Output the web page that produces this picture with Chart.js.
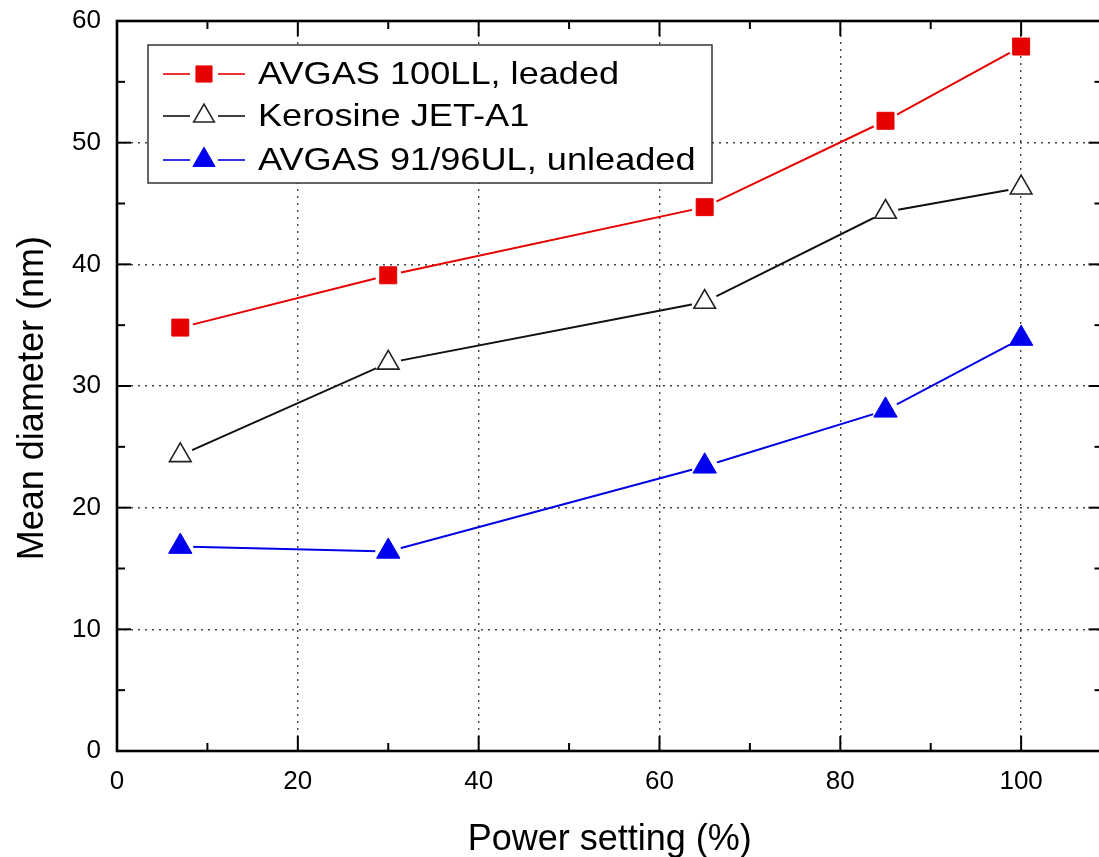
<!DOCTYPE html>
<html>
<head>
<meta charset="utf-8">
<script src="https://cdn.jsdelivr.net/npm/chart.js@4.4.1/dist/chart.umd.min.js"></script>
<style>
  html, body { margin: 0; padding: 0; background: #fff; overflow: hidden; }
  #wrap { width: 1099px; height: 857px; position: relative; overflow: hidden; }
  #c { position: absolute; left: 0; top: 0; }
</style>
</head>
<body>
<div id="wrap"><canvas id="c" width="1117" height="857"></canvas></div>
<script>
// ---- data ----
const powerSetting = [7, 30, 65, 85, 100];
const avgas100LL = [34.8, 39.1, 44.7, 51.8, 57.9];
const keroseneJetA1 = [24.3, 31.9, 36.9, 44.3, 46.3];
const avgas9196UL = [16.8, 16.4, 23.4, 28.0, 33.9];
const seriesNames = ['AVGAS 100LL, leaded', 'Kerosine JET-A1', 'AVGAS 91/96UL, unleaded'];
const xTickValues = [0, 20, 40, 60, 80, 100];
const yTickValues = [0, 10, 20, 30, 40, 50, 60];
const xTitle = 'Power setting (%)';
const yTitle = 'Mean diameter (nm)';

const FONT = "'Liberation Sans', Arial, sans-serif";

function pts(ys) { return powerSetting.map((x, i) => ({ x: x, y: ys[i] })); }

const styles = [
  { line: '#e60000', style: 'rect', r: 12, fill: '#e60000', stroke: '#e60000', bw: 1 },
  { line: '#111111', style: 'triangle', r: 12.5, fill: '#ffffff', stroke: '#222222', bw: 1.6 },
  { line: '#0000e6', style: 'triangle', r: 13.5, fill: '#0000ee', stroke: '#0000ee', bw: 1 }
];
const seriesValues = [avgas100LL, keroseneJetA1, avgas9196UL];

const datasets = [];
seriesValues.forEach((vals, i) => {
  datasets.push({ label: seriesNames[i], data: pts(vals), borderColor: styles[i].line, borderWidth: 2,
    pointRadius: 0, showLine: true, tension: 0, fill: false, _gapLine: true });
});
seriesValues.forEach((vals, i) => {
  const s = styles[i];
  datasets.push({ label: seriesNames[i], data: pts(vals), showLine: false,
    pointStyle: s.style, pointRadius: s.r, pointBackgroundColor: s.fill, pointBorderColor: s.stroke,
    pointBorderWidth: s.bw });
});

const GAP = 13;
const gapPlugin = {
  id: 'gap',
  beforeDatasetDraw(chart, args) {
    const ds = chart.data.datasets[args.index];
    if (!ds._gapLine) return;
    const { ctx } = chart;
    ctx.save();
    ctx.beginPath();
    ctx.rect(0, 0, chart.width, chart.height);
    args.meta.data.forEach(p => {
      ctx.moveTo(p.x + GAP, p.y);
      ctx.arc(p.x, p.y, GAP, 0, Math.PI * 2);
    });
    ctx.clip('evenodd');
  },
  afterDatasetDraw(chart, args) {
    const ds = chart.data.datasets[args.index];
    if (!ds._gapLine) return;
    chart.ctx.restore();
  }
};

const framePlugin = {
  id: 'frame',
  afterDraw(chart) {
    const { ctx, chartArea: a, scales } = chart;
    const xs = scales.x, ys = scales.y;
    ctx.save();
    ctx.strokeStyle = '#000';
    ctx.lineWidth = 2;
    const drawX = (v, len) => {
      const px = xs.getPixelForValue(v);
      ctx.beginPath(); ctx.moveTo(px, a.bottom); ctx.lineTo(px, a.bottom - len); ctx.stroke();
      ctx.beginPath(); ctx.moveTo(px, a.top); ctx.lineTo(px, a.top + len); ctx.stroke();
    };
    const drawY = (v, len) => {
      const py = ys.getPixelForValue(v);
      ctx.beginPath(); ctx.moveTo(a.left, py); ctx.lineTo(a.left + len, py); ctx.stroke();
      ctx.beginPath(); ctx.moveTo(a.right, py); ctx.lineTo(a.right - len, py); ctx.stroke();
    };
    for (let v = 0; v <= xs.max; v += 10) drawX(v, v % 20 === 0 ? 15 : 8);
    for (let v = 0; v <= ys.max; v += 5) drawY(v, v % 10 === 0 ? 14 : 8);
    ctx.lineWidth = 2.6;
    ctx.strokeRect(a.left, a.top, a.right - a.left, a.bottom - a.top);

    // y axis title
    ctx.save();
    ctx.fillStyle = '#000';
    ctx.font = '36px ' + FONT;
    ctx.textAlign = 'center';
    ctx.textBaseline = 'alphabetic';
    ctx.translate(43, ys.getPixelForValue(29));
    ctx.rotate(-Math.PI / 2);
    ctx.fillText(yTitle, 0, 0);
    ctx.restore();

    // legend
    const lx = a.left + 31, ly = a.top + 24, lw = 564, lh = 138;
    ctx.fillStyle = '#fff';
    ctx.fillRect(lx, ly, lw, lh);
    ctx.lineWidth = 1.5;
    ctx.strokeStyle = '#333';
    ctx.strokeRect(lx, ly, lw, lh);
    const rowY = [ly + 29, ly + 71, ly + 115];
    styles.forEach((s, i) => {
      const y = rowY[i];
      const cx = lx + 56;
      ctx.strokeStyle = s.line;
      ctx.lineWidth = 1.6;
      ctx.beginPath(); ctx.moveTo(lx + 15, y); ctx.lineTo(cx - 14, y); ctx.stroke();
      ctx.beginPath(); ctx.moveTo(cx + 14, y); ctx.lineTo(lx + 97, y); ctx.stroke();
      ctx.fillStyle = s.fill;
      ctx.strokeStyle = s.stroke;
      ctx.lineWidth = s.bw;
      const r = s.r * 0.95;
      ctx.beginPath();
      if (s.style === 'rect') {
        const h = r * Math.SQRT1_2;
        ctx.rect(cx - h, y - h, 2 * h, 2 * h);
      } else {
        ctx.moveTo(cx, y - r);
        ctx.lineTo(cx + r * Math.sin(Math.PI / 3), y + r / 2);
        ctx.lineTo(cx - r * Math.sin(Math.PI / 3), y + r / 2);
        ctx.closePath();
      }
      ctx.fill(); ctx.stroke();
      ctx.save();
      ctx.fillStyle = '#000';
      ctx.font = '32px ' + FONT;
      ctx.textBaseline = 'middle';
      ctx.textAlign = 'left';
      ctx.translate(lx + 110, y + 1);
      ctx.scale(1.13, 1);
      ctx.fillText(seriesNames[i], 0, 0);
      ctx.restore();
    });
    ctx.restore();
  }
};

new Chart(document.getElementById('c'), {
  type: 'scatter',
  data: { datasets },
  plugins: [gapPlugin, framePlugin],
  options: {
    responsive: false,
    animation: false,
    devicePixelRatio: 1,
    layout: { padding: { top: 21, right: 0, left: 0, bottom: 0 } },
    plugins: { legend: { display: false }, tooltip: { enabled: false } },
    scales: {
      x: {
        type: 'linear', min: 0, max: 109,
        afterBuildTicks: s => { s.ticks = xTickValues.map(v => ({ value: v })); },
        afterFit: s => { s.height = 106; s.paddingLeft = 0; s.paddingRight = 0; },
        ticks: { font: { family: FONT, size: 26 }, color: '#000', padding: 15, maxRotation: 0 },
        grid: {
          drawTicks: false,
          color: c => (c.tick && (c.tick.value === 0)) ? 'rgba(0,0,0,0)' : '#444',
          lineWidth: 1.4
        },
        border: { display: false, dash: [2, 5] },
        title: { display: true, text: xTitle, font: { family: FONT, size: 36 }, color: '#000', padding: { top: 0, bottom: -5 } }
      },
      y: {
        type: 'linear', min: 0, max: 60,
        afterBuildTicks: s => { s.ticks = yTickValues.map(v => ({ value: v })); },
        afterFit: s => { s.width = 117; s.paddingTop = 0; s.paddingBottom = 0; },
        ticks: { font: { family: FONT, size: 26 }, color: '#000', padding: 16 },
        grid: {
          drawTicks: false,
          color: c => (c.tick && (c.tick.value === 0 || c.tick.value === 60)) ? 'rgba(0,0,0,0)' : '#444',
          lineWidth: 1.4
        },
        border: { display: false, dash: [2, 5] },
        title: { display: false }
      }
    }
  }
});
</script>
</body>
</html>
